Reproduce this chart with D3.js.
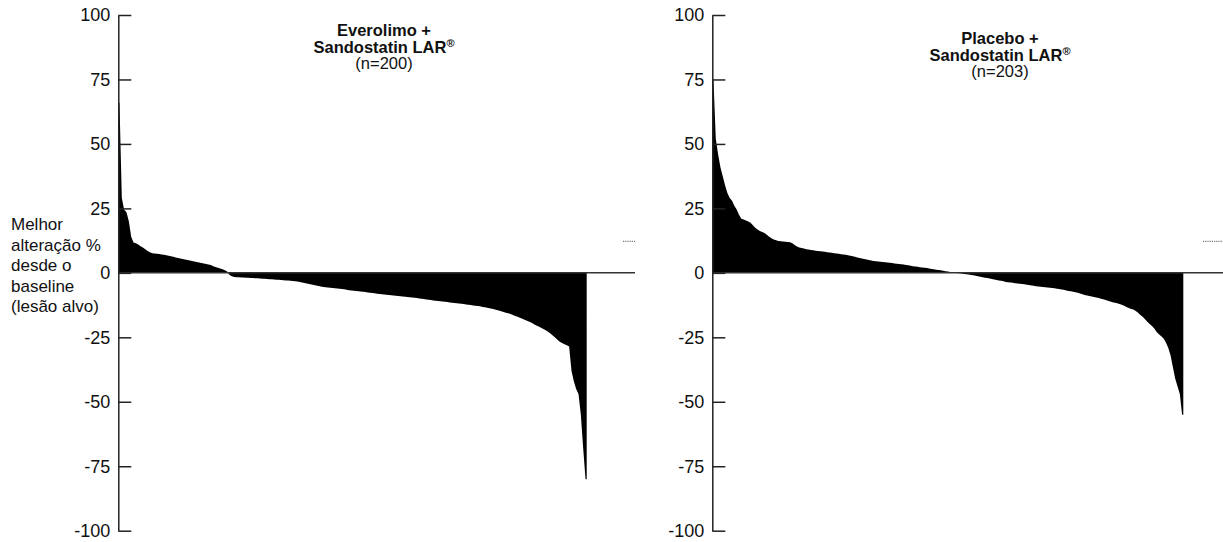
<!DOCTYPE html>
<html>
<head>
<meta charset="utf-8">
<script src="https://cdn.jsdelivr.net/npm/d3@7"></script>
<style>
  body { margin: 0; background: #fff; }
  svg { display: block; font-family: "Liberation Sans", Arial, sans-serif; }
  .tick line { stroke: #222; stroke-width: 1.5; }
  .domain { stroke: #222; stroke-width: 1.5; }
  .tick text { font-size: 18px; fill: #111; }
</style>
</head>
<body>
<div id="chart"></div>
<script>
// Best % change from baseline (target lesion), one value per patient, sorted

const yTicks = [100, 75, 50, 25, 0, -25, -50, -75, -100];

const everolimus = [
  66, 29, 24.5, 23.5, 20, 14, 11.8, 11.5, 11, 10.3, 9.8, 9.2, 8.5, 8, 7.6, 7.5, 7.4, 7.3,
  7.1, 7.0, 6.8, 6.6, 6.4, 6.2, 6.0, 5.8, 5.6, 5.4, 5.2, 5.0, 4.8, 4.6, 4.4, 4.2, 4.0, 3.8,
  3.6, 3.4, 3.2, 3.0, 2.6, 2.3, 2.0, 1.7, 1.4, 1.0, 0.5,
  -0.8, -1.3, -1.6,
  -1.7, -1.7, -1.8, -1.8, -1.9, -1.9, -2.0, -2.0, -2.1, -2.1, -2.2, -2.3, -2.3, -2.4,
  -2.5, -2.5, -2.6, -2.7, -2.7, -2.8, -2.9, -3.0, -3.0, -3.1, -3.2, -3.3, -3.4, -3.5,
  -3.7, -3.9, -4.1, -4.3, -4.5, -4.7, -4.9, -5.1, -5.3, -5.5,
  -5.6, -5.7, -5.8, -5.9, -6.0, -6.1, -6.2, -6.3, -6.4, -6.6, -6.7, -6.8, -6.9, -7.0,
  -7.1, -7.2, -7.3, -7.4, -7.6, -7.7, -7.8, -7.9, -8.1,
  -8.2, -8.3, -8.4, -8.5, -8.6, -8.7, -8.8, -8.9, -9.0, -9.1, -9.2, -9.3, -9.4, -9.5,
  -9.6, -9.7, -9.8, -9.9, -10.0, -10.1, -10.3, -10.4, -10.5, -10.7,
  -10.8, -10.9, -11.0, -11.1, -11.2, -11.3, -11.5, -11.6, -11.7, -11.8, -11.9, -12.0,
  -12.1, -12.3, -12.4, -12.5, -12.7, -12.8, -12.9, -13.0, -13.2, -13.3,
  -13.5, -13.7, -13.9, -14.1, -14.4, -14.6, -14.9, -15.2, -15.5, -15.7,
  -16.0, -16.3, -16.7, -17.0, -17.4, -17.8, -18.2,
  -18.6, -19.0, -19.4, -19.9, -20.4, -20.8, -21.3, -21.8, -22.3, -22.8,
  -23.5, -24.3, -25.1, -25.9, -26.7,
  -27.2, -27.7, -28.1, -28.6,
  -38, -42, -45, -47, -55, -68, -80
];

const placebo = [
  75, 52, 46, 41, 37.5, 34, 31, 29, 28, 26, 24.6, 22.5, 21, 20.7, 20.3, 19.9, 19.4, 18.5,
  17.5, 16.8, 16.2, 15.8, 15.5, 14.8, 14, 13.4, 12.9, 12.6, 12.4, 12.3, 12.2, 12.1, 12.0,
  11.9, 11.5, 10.8, 10.2, 9.8, 9.6, 9.4, 9.2, 9.1, 8.9, 8.8, 8.6, 8.5, 8.4, 8.3, 8.2, 8.0,
  7.9, 7.8, 7.6, 7.5, 7.4, 7.2, 7.1, 7.0, 6.8, 6.6, 6.4, 6.2, 6.0, 5.8, 5.6, 5.4, 5.2, 5.0,
  4.8, 4.6, 4.5, 4.4, 4.3, 4.2, 4.1, 4.0, 3.9, 3.8, 3.6, 3.5, 3.4, 3.3, 3.2, 3.0, 2.9, 2.8,
  2.6, 2.5, 2.4, 2.2, 2.1, 2.0, 1.9, 1.7, 1.5, 1.4, 1.2, 1.1, 1.0, 0.8, 0.6, 0.5, 0.3, 0.2,
  0.1,
  -0.1, -0.2, -0.3, -0.4, -0.5, -0.6, -0.8, -0.9, -1.1, -1.3, -1.5, -1.7, -1.9, -2.0,
  -2.2, -2.4, -2.6, -2.8, -3.0, -3.1, -3.3, -3.5, -3.6, -3.7, -3.8, -4.0, -4.1, -4.2,
  -4.3, -4.4, -4.6, -4.7, -4.9, -5.0, -5.2, -5.3, -5.4, -5.5, -5.6, -5.7, -5.8, -5.9,
  -6.0, -6.2, -6.3, -6.5, -6.6, -6.8, -7.0, -7.1, -7.3, -7.5, -7.7, -8.0, -8.3, -8.6,
  -8.8, -9.0, -9.2, -9.4, -9.6, -9.8, -10.0, -10.2, -10.5, -10.8, -11.1, -11.4, -11.6,
  -11.8, -12.1, -12.4, -12.8, -13.2, -13.6, -14.0, -14.2, -14.8, -15.5, -16.3, -17.0,
  -18.0, -19.0, -19.8, -20.6, -21.6, -22.9, -23.8, -24.6, -25.5, -27.0, -29.0, -32.0,
  -36.5, -41.0, -44.0, -47.0, -55.0
];

const yLabelLines = ['Melhor', 'alteração %', 'desde o', 'baseline', '(lesão alvo)'];

const panels = [
  { values: everolimus, title: ['Everolimo +', 'Sandostatin LAR', '(n=200)'],
    x0: 118.3, x1: 586.7, lineEnd: 635, titleX: 384, titleY: 36, dots: [623, 635] },
  { values: placebo, title: ['Placebo +', 'Sandostatin LAR', '(n=203)'],
    x0: 712.3, x1: 1183.3, lineEnd: 1223, titleX: 1000, titleY: 44, dots: [1203, 1223] }
];

const width = 1223, height = 542;

const svg = d3.select('#chart').append('svg')
  .attr('width', width)
  .attr('height', height);

const y = d3.scaleLinear().domain([-100, 100]).range([530.7, 15]);

panels.forEach(p => {
  const n = p.values.length;
  const x = d3.scaleLinear().domain([0, n]).range([p.x0, p.x1]);
  const g = svg.append('g');

  // waterfall drawn as one filled area through the bar centres
  const pts = [[0, p.values[0]]]
    .concat(p.values.map((v, i) => [i + 0.5, v]))
    .concat([[n, p.values[n - 1]]]);
  const area = d3.area()
    .x(d => x(d[0]))
    .y0(y(0))
    .y1(d => y(d[1]));
  g.append('path').datum(pts).attr('d', area).attr('fill', '#000');

  // zero line
  g.append('line')
    .attr('x1', p.x0).attr('x2', p.lineEnd)
    .attr('y1', y(0)).attr('y2', y(0))
    .attr('stroke', '#333').attr('stroke-width', 1.5);

  // tiny dotted mark at the right edge
  g.append('line')
    .attr('x1', p.dots[0]).attr('x2', p.dots[1])
    .attr('y1', y(12.2)).attr('y2', y(12.2))
    .attr('stroke', '#777').attr('stroke-width', 1.2)
    .attr('stroke-dasharray', '1.2,1');

  const axis = d3.axisLeft(y)
    .tickValues(yTicks)
    .tickFormat(d => String(d))
    .tickSizeInner(-13)
    .tickSizeOuter(0)
    .tickPadding(8);
  g.append('g')
    .attr('transform', `translate(${p.x0},0)`)
    .call(axis);

  const t = g.append('text')
    .attr('text-anchor', 'middle')
    .attr('fill', '#111')
    .style('font-size', '16.5px');
  t.append('tspan').attr('x', p.titleX).attr('y', p.titleY)
    .style('font-weight', 'bold').text(p.title[0]);
  const l2 = t.append('tspan').attr('x', p.titleX).attr('y', p.titleY + 17)
    .style('font-weight', 'bold').text(p.title[1]);
  l2.append('tspan').attr('dy', -6).style('font-size', '11px').text('®');
  t.append('tspan').attr('x', p.titleX).attr('y', p.titleY + 33).text(p.title[2]);
});

svg.append('text')
  .attr('fill', '#111')
  .style('font-size', '17px')
  .selectAll('tspan')
  .data(yLabelLines)
  .join('tspan')
  .attr('x', 11)
  .attr('y', (d, i) => 230 + i * 20.6)
  .text(d => d);
</script>
</body>
</html>
